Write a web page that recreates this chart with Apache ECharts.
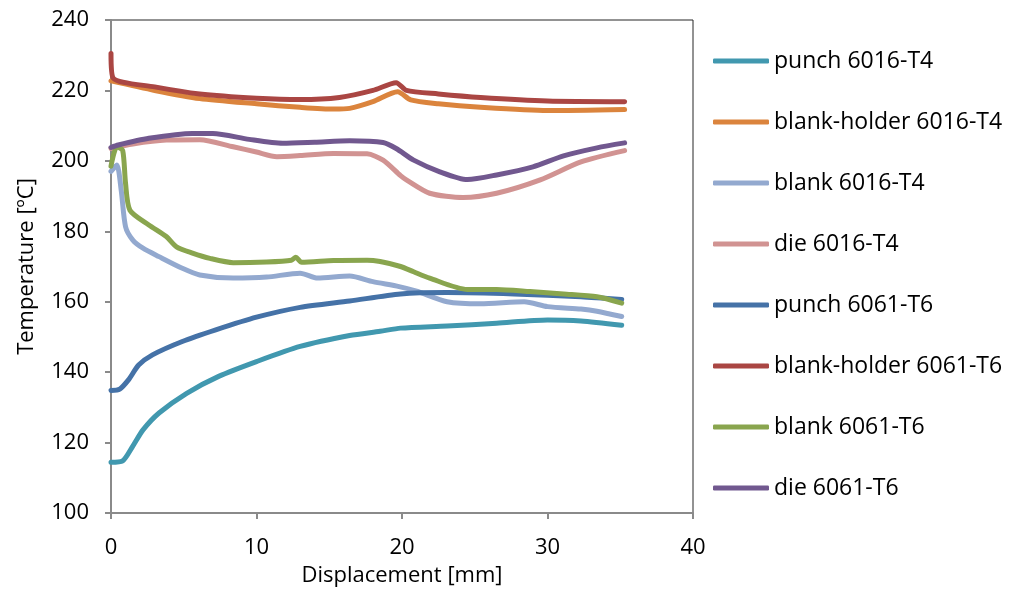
<!DOCTYPE html>
<html>
<head>
<meta charset="utf-8">
<script src="https://cdn.jsdelivr.net/npm/echarts@6/dist/echarts.min.js"></script>
<style>html,body{margin:0;padding:0;background:#fff}#c{width:1011px;height:592px}</style>
</head>
<body>
<div id="c"></div>
<script>
const seriesNames = ['punch 6016-T4','blank-holder 6016-T4','blank 6016-T4','die 6016-T4','punch 6061-T6','blank-holder 6061-T6','blank 6061-T6','die 6061-T6'];
const colors = ['#4198AF','#DB843D','#93A9CF','#D19392','#4572A7','#AA4643','#89A54E','#71588F'];
const xTicks = [0,10,20,30,40];
const yTicks = [100,120,140,160,180,200,220,240];

const punch6016 = [[0,114.4],[0.8,114.8],[1.5,119],[2.2,123.6],[3.3,128.4],[5.2,134],[7.4,138.8],[10,143],[13,147.3],[16.4,150.4],[18.5,151.6],[19.9,152.5],[23.1,153.1],[26.5,153.9],[30,154.8],[32.3,154.5],[35.1,153.3]];
const blankHolder6016 = [[0,222.7],[3,220],[6.1,217.7],[10,216.2],[13,215.2],[15.3,214.7],[16.4,214.9],[18,216.8],[19.7,219.6],[20.6,217.3],[22.5,216.2],[25.4,215.2],[30,214.3],[35.3,214.6]];
const blank6016 = [[0,197],[0.4,198.8],[0.7,191.7],[1.0,181.3],[1.5,177.5],[2.2,175.2],[3.3,172.8],[4.9,169.5],[6.1,167.6],[8.4,166.7],[10.7,167],[13,168.1],[14.2,166.7],[16.4,167.3],[18,165.7],[19.8,164.3],[21,163],[23.1,160],[25.4,159.4],[28.4,160],[30,158.6],[32.3,157.9],[33.4,157.3],[35.1,155.8]];
const die6016 = [[0,203.5],[1.5,204.8],[3.8,205.9],[6.1,206],[8.4,204],[10,202.5],[11.4,201.2],[13,201.5],[15.3,202.1],[17.6,202],[18.7,200.2],[19.9,195.8],[20.3,194.6],[21.9,190.8],[24.2,189.6],[26.5,190.8],[29.5,194.6],[32.3,199.7],[35.3,202.9]];
const punch6061 = [[0,134.8],[0.6,135.2],[1.2,137.8],[1.9,142],[2.85,144.9],[4.9,148.7],[7.2,152],[10,155.6],[13,158.4],[16.4,160.2],[19.9,162.2],[23.1,162.6],[27.7,162.2],[32.3,161.4],[35.1,160.6]];
const blankHolder6061 = [[0,230.5],[0.15,223.5],[3,221],[6.1,219],[10,217.8],[13,217.4],[15.7,218],[18,220],[19.6,222.2],[20.3,220],[22.5,219],[25.4,218],[30,217],[35.3,216.8]];
const blank6061 = [[0,198.5],[0.4,204],[0.8,203],[1.0,193.6],[1.3,186],[2.6,181.8],[3.8,178.5],[4.5,175.6],[5.6,173.8],[6.8,172.3],[8.4,171.1],[10.7,171.3],[12.4,171.8],[12.7,172.6],[13.1,171.2],[15.3,171.7],[17.6,171.8],[18.5,171.4],[19.9,170],[20.8,168.5],[21.9,166.7],[24.5,163.5],[26.5,163.5],[28.8,162.9],[31.1,162.2],[33.4,161.4],[35.1,159.6]];
const die6061 = [[0,203.8],[0.5,204.5],[2.6,206.4],[5.6,207.8],[7,207.8],[9.5,206.1],[11.8,205],[14,205.3],[16.4,205.7],[18.7,205.2],[19.6,203.5],[20.8,200.2],[22.6,196.9],[24.5,194.7],[26.5,196],[29,198.3],[31.1,201.4],[33.4,203.7],[35.3,205.1]];

const allData = [punch6016, blankHolder6016, blank6016, die6016, punch6061, blankHolder6061, blank6061, die6061];
const FONT = 'Open Sans';

const chart = echarts.init(document.getElementById('c'), null, {renderer: 'canvas'});
chart.setOption({
  animation: false,
  backgroundColor: '#fff',
  color: colors,
  grid: {left: 111, top: 20, right: 318, bottom: 79, show: true, borderColor: '#262626', borderWidth: 1},
  legend: {
    orient: 'vertical', left: 713, top: 49, padding: 0, itemWidth: 56, itemHeight: 5, itemGap: 37,
    icon: 'roundRect', selectedMode: false,
    textStyle: {fontFamily: FONT, fontSize: 23, color: '#000', lineHeight: 24},
    data: seriesNames
  },
  xAxis: {
    type: 'value', min: xTicks[0], max: xTicks[xTicks.length-1], interval: 10,
    name: 'Displacement [mm]', nameLocation: 'middle', nameGap: 52,
    nameTextStyle: {fontFamily: FONT, fontSize: 22, color: '#000'},
    axisLine: {show: true, lineStyle: {color: '#8a8a8a', width: 2}},
    axisTick: {show: true, inside: false, length: 6, lineStyle: {color: '#8a8a8a', width: 2}},
    axisLabel: {fontFamily: FONT, fontSize: 22, color: '#000', margin: 24},
    splitLine: {show: false}
  },
  yAxis: {
    type: 'value', min: yTicks[0], max: yTicks[yTicks.length-1], interval: 20,
    name: 'Temperature [ºC]', nameLocation: 'middle', nameGap: 73, nameRotate: 90,
    nameTextStyle: {fontFamily: FONT, fontSize: 22, color: '#000'},
    axisLine: {show: true, lineStyle: {color: '#8a8a8a', width: 2}},
    axisTick: {show: true, inside: false, length: 6, lineStyle: {color: '#8a8a8a', width: 2}},
    axisLabel: {fontFamily: FONT, fontSize: 22, color: '#000', margin: 22},
    splitLine: {show: false}
  },
  series: seriesNames.map((n, i) => ({
    name: n, type: 'line', data: allData[i], showSymbol: false, symbol: 'none',
    smooth: 0.25, lineStyle: {width: 5, color: colors[i], cap: 'round', join: 'round'},
    itemStyle: {color: colors[i]}
  }))
});
</script>
</body>
</html>
